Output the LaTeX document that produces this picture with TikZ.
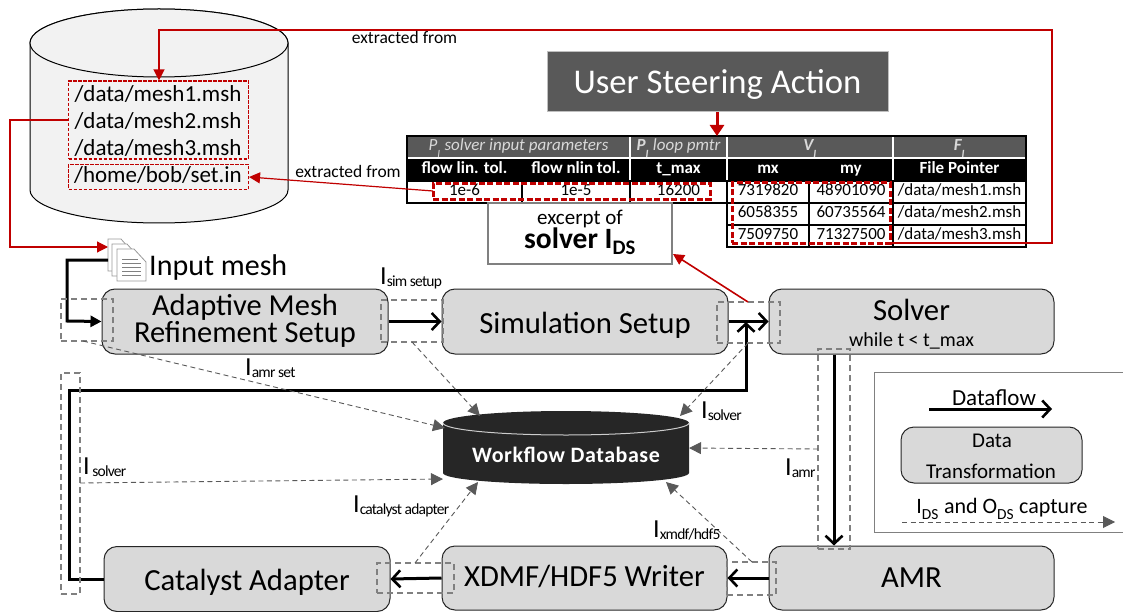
\documentclass[tikz,border=0pt]{standalone}
\usepackage{fontspec}
\setmainfont{Carlito}
\usetikzlibrary{arrows.meta,calc}
\newcommand{\fsz}[1]{\fontsize{#1pt}{#1pt}\selectfont}
\newcommand{\capI}[1]{{\fsz{26}I}{\addfontfeatures{LetterSpace=-5}\fsz{15.5}\raisebox{-2.5pt}{#1}}}
\definecolor{redline}{HTML}{C00000}
\definecolor{boxgray}{HTML}{D9D9D9}
\definecolor{capgray}{HTML}{595959}
\definecolor{dashgray}{HTML}{808080}
\tikzset{
  x=1pt,y=-1pt,
  procbox/.style={draw=black!85,line width=1pt,fill=boxgray,rounded corners=13pt,inner sep=0pt,align=center,text=black},
  flowline/.style={draw=black,line width=3pt},
  flowarrow/.style={flowline,-{Straight Barb[length=8pt,width=17pt,line width=2.6pt]}},
  flowfill/.style={flowline,-{Triangle[length=11pt,width=11pt]}},
  capture/.style={draw=capgray,line width=.9pt,dash pattern=on 5pt off 3.5pt,-{Triangle[length=12pt,width=12pt,color=capgray,fill=capgray]}},
  caprect/.style={draw=dashgray,line width=1.1pt,dash pattern=on 6pt off 4pt},
  redbox/.style={draw=redline,line width=1.1pt,dash pattern=on 3.5pt off 1.5pt},
  redthick/.style={draw=redline,line width=3pt,dash pattern=on 6pt off 2.5pt},
  redarrow/.style={draw=redline,line width=1.2pt,-{Triangle[length=11pt,width=11pt]}},
  tcell/.style={draw=black,line width=1.5pt,fill=white,inner sep=0pt,font=\fsz{17},text height=12pt,text depth=4pt},
  thead/.style={draw=black,line width=1.5pt,fill=black,text=white,inner sep=0pt,font=\bfseries\fsz{17},text height=12pt,text depth=4pt},
  tgroup/.style={fill=capgray,text=boxgray,inner sep=0pt,font=\itshape\fsz{17},text height=12pt,text depth=4pt},
  doc/.style={draw=black!40,line width=.8pt,fill=white},
  lbl/.style={inner sep=0pt,text=black,anchor=base},
  lblw/.style={inner sep=0pt,text=black,anchor=base west},
}
\begin{document}
\begin{tikzpicture}
\useasboundingbox (0,0) rectangle (1123,612);
% store cylinder
\draw[fill=black!5,line width=1pt] (30,43) -- (30,190) arc[start angle=180,end angle=360,x radius=129pt,y radius=33pt] -- (288,43) arc[start angle=0,end angle=180,x radius=129pt,y radius=34pt] -- cycle;
\draw[fill=black!5,line width=1pt] (159,43) ellipse[x radius=129pt,y radius=34pt];
\node[lbl,font=\fsz{23}] (m1) at (158,102) {/data/mesh1.msh};
\node[lbl,font=\fsz{23}] (m2) at (158,128.5) {/data/mesh2.msh};
\node[lbl,font=\fsz{23}] (m3) at (158,156) {/data/mesh3.msh};
\node[lbl,font=\fsz{23}] (hb) at (158,182.5) {/home/bob/set.in};
\node[redbox,minimum width=180pt,minimum height=78pt,inner sep=0pt] (meshes) at (158.5,120) {};
\node[redbox,minimum width=180pt,minimum height=25pt,inner sep=0pt] (setin) at (158.5,177) {};
% user steering
\node[draw=black!25,line width=1pt,fill=capgray,text=white,minimum width=341pt,minimum height=60pt,inner sep=0pt,font=\fsz{34.7},text height=22.6pt,text depth=0pt] (steer) at (717.5,82) {User Steering Action};
% table
\node[tgroup,minimum width=223pt,minimum height=22pt] (g1) at (518.5,147) {\textit{P\textsubscript{\raisebox{-4pt}{\fsz{11}I}}} solver input parameters};
\node[tgroup,minimum width=97pt,minimum height=22pt] (g2) at (678.5,147) {\textbf{P\textsubscript{\raisebox{-4pt}{\fsz{11}I}}} loop pmtr};
\node[tgroup,minimum width=166pt,minimum height=22pt,font=\bfseries\itshape\fsz{17}] (g3) at (810,147) {V\textsubscript{\raisebox{-4pt}{\fsz{11}I}}};
\node[tgroup,minimum width=133pt,minimum height=22pt,font=\bfseries\itshape\fsz{17}] (g4) at (959.5,147) {F\textsubscript{\raisebox{-4pt}{\fsz{11}I}}};
\node[thead,minimum width=115pt,minimum height=23pt] (h1) at (464.5,169.5) {flow lin. tol.};
\node[thead,minimum width=108pt,minimum height=23pt] (h2) at (576,169.5) {flow nlin tol.};
\node[thead,minimum width=97pt,minimum height=23pt] (h3) at (678.5,169.5) {t\_max};
\node[thead,minimum width=82pt,minimum height=23pt] (h4) at (768,169.5) {mx};
\node[thead,minimum width=84pt,minimum height=23pt] (h5) at (851,169.5) {my};
\node[thead,minimum width=133pt,minimum height=23pt] (h6) at (959.5,169.5) {File Pointer};
\node[tcell,minimum width=115pt,minimum height=22pt] (c11) at (464.5,192) {1e-6};
\node[tcell,minimum width=108pt,minimum height=22pt] (c12) at (576,192) {1e-5};
\node[tcell,minimum width=97pt,minimum height=22pt] (c13) at (678.5,192) {16200};
\node[tcell,minimum width=82pt,minimum height=22pt] (c14) at (768,192) {7319820};
\node[tcell,minimum width=84pt,minimum height=22pt] (c15) at (851,192) {48901090};
\node[tcell,minimum width=133pt,minimum height=22pt] (c16) at (959.5,192) {/data/mesh1.msh};
\node[tcell,minimum width=82pt,minimum height=22pt] (c24) at (768,214) {6058355};
\node[tcell,minimum width=84pt,minimum height=22pt] (c25) at (851,214) {60735564};
\node[tcell,minimum width=133pt,minimum height=22pt] (c26) at (959.5,214) {/data/mesh2.msh};
\node[tcell,minimum width=82pt,minimum height=22pt] (c34) at (768,236) {7509750};
\node[tcell,minimum width=84pt,minimum height=22pt] (c35) at (851,236) {71327500};
\node[tcell,minimum width=133pt,minimum height=22pt] (c36) at (959.5,236) {/data/mesh3.msh};
\draw[black,line width=1.5pt] (407,136) rectangle (1026,158);
\draw[white,line width=1.2pt] (630,137) -- (630,180) (727,137) -- (727,180) (893,137) -- (893,180) (408,158) -- (1025,158);
\node[redthick,minimum width=277pt,minimum height=16pt,inner sep=0pt] (redparams) at (571.5,191.5) {};
\node[redthick,minimum width=158pt,minimum height=60pt,inner sep=0pt] (redvals) at (811,213) {};
% excerpt
\node[draw=dashgray,line width=1.6pt,fill=white,minimum width=184pt,minimum height=61pt,inner sep=0pt] (excerpt) at (580,233.5) {};
\node[lbl,font=\fsz{21}] (ex0) at (580,225) {excerpt of};
\node[lbl,font=\bfseries\fsz{29.5}] (ex00) at (580,248) {solver I\textsubscript{\raisebox{-3pt}{DS}}};
% icon
\draw[doc] (108,239) -- (121,239) -- (128,247) -- (128,271) -- (108,271) -- cycle;
\draw[doc] (112,244) -- (127,244) -- (136,254) -- (136,276) -- (112,276) -- cycle;
\draw[doc] (117,249) -- (134,249) -- (146,262) -- (146,281) -- (117,281) -- cycle;
\draw[black!50,line width=.7pt] (122,259) -- (138,259) (122,263) -- (141,263) (122,267) -- (141,267) (122,271) -- (141,271) (122,275) -- (141,275);
\node[inner sep=0pt,minimum width=38pt,minimum height=42pt] (icon) at (127,260) {};
\node[lblw,font=\fsz{30}] (inputmesh) at (149,275) {Input mesh};
% process boxes
\node[procbox,minimum width=286pt,minimum height=65pt] (amrsetup) at (245,321.5) {};
\node[lbl,font=\fsz{30.5}] (amrs1) at (245,315) {Adaptive Mesh};
\node[lbl,font=\fsz{30.5}] (amrs2) at (245,342) {Refinement Setup};
\node[procbox,minimum width=286pt,minimum height=65pt,font=\fsz{30.7},text height=23pt,text depth=0pt] (simsetup) at (585,321.5) {Simulation Setup};
\node[procbox,minimum width=285pt,minimum height=65pt] (solver) at (911.5,321.5) {};
\node[lbl,font=\fsz{30.7}] (solvert) at (911.5,320) {Solver};
\node[lbl,font=\fsz{20}] (solverw) at (911.5,346.5) {while t < t\_max};
\node[procbox,minimum width=286pt,minimum height=65pt,font=\fsz{30.7},text height=22pt,text depth=0pt] (catalyst) at (247,579) {Catalyst Adapter};
\node[procbox,minimum width=285pt,minimum height=64pt,font=\fsz{30.7},text height=16pt,text depth=0pt] (xdmf) at (584.5,578) {XDMF/HDF5 Writer};
\node[procbox,minimum width=285pt,minimum height=64pt,font=\fsz{30.7},text height=18pt,text depth=0pt] (amr) at (911.5,578) {AMR};
% database
\fill[black!85] (443,423) -- (443,473) arc[start angle=180,end angle=360,x radius=123pt,y radius=11pt] -- (689,423) arc[start angle=0,end angle=180,x radius=123pt,y radius=12pt] -- cycle;
\draw[white!80!black,line width=1pt] (443,423) arc[start angle=180,end angle=360,x radius=123pt,y radius=12pt];
\node[lbl,text=white,font=\bfseries\fsz{22}] (wfdb) at (566,462.7) {\addfontfeatures{LetterSpace=2.5}Workflow Database};
\node[inner sep=0pt,minimum width=246pt,minimum height=73pt] (dbshape) at (566,447.5) {};
% flow connectors
\coordinate (c1) at (67,260);
\coordinate (c2) at (67,321);
\draw[flowfill] (108,260) -- (c1) -- (c2) -- (amrsetup.west);
\draw[flowarrow] (amrsetup.east) -- (simsetup.west);
\draw[flowarrow] (simsetup.east) -- (solver.west);
\draw[flowarrow] (solver.south -| 834,0) -- (amr.north -| 834,0);
\draw[flowarrow] (amr.west) -- (xdmf.east);
\draw[flowarrow] (xdmf.west) -- (catalyst.east);
\coordinate (l1) at (69,579);
\coordinate (l2) at (69,390);
\coordinate (l3) at (746,390);
\coordinate (l4) at (746,322);
\draw[flowarrow] (catalyst.west) -- (l1) -- (l2) -- (l3) -- (l4);
% capture rectangles
\node[caprect,minimum width=52pt,minimum height=42pt,inner sep=0pt] (r1) at (87,320) {};
\node[caprect,minimum width=62pt,minimum height=42pt,inner sep=0pt] (r2) at (412,321) {};
\node[caprect,minimum width=63pt,minimum height=41pt,inner sep=0pt] (r3) at (748.5,322.5) {};
\node[caprect,minimum width=32pt,minimum height=200pt,inner sep=0pt] (r4) at (834,449) {};
\node[caprect,minimum width=19pt,minimum height=221pt,inner sep=0pt] (r5) at (70.5,483.5) {};
\node[caprect,minimum width=77pt,minimum height=30pt,inner sep=0pt] (r6) at (415.5,578) {};
\node[caprect,minimum width=49pt,minimum height=33pt,inner sep=0pt] (r7) at (751.5,578.5) {};
% capture arrows
\coordinate (t1) at (445,428);
\coordinate (t2) at (480,416);
\coordinate (t3) at (680,416);
\coordinate (t4) at (443,479);
\coordinate (t5) at (478,482);
\coordinate (t6) at (666,482);
\coordinate (t7) at (689,448);
\draw[capture] (83,341) -- (t1);
\draw[capture] (412,342) -- (t2);
\draw[capture] (748,343) -- (t3);
\draw[capture] (80,483) -- (t4);
\draw[capture] (415,563) -- (t5);
\draw[capture] (752,562) -- (t6);
\draw[capture] (818,449) -- (t7);
% red connectors
\coordinate (e1) at (1052,243);
\coordinate (e2) at (1052,30);
\coordinate (e3) at (159,30);
\draw[redarrow] (redvals.east |- e1) -- (e1) -- (e2) -- (e3) -- (meshes.north -| e3);
\coordinate (f1) at (10,120);
\coordinate (f2) at (10,247);
\draw[redarrow] (meshes.west) -- (f1) -- (f2) -- (108,247);
\draw[redarrow] (433,191) -- (setin.east);
\draw[redarrow,line width=1.6pt] (748,302) -- (673,254);
\draw[redarrow,line width=3pt,-{Triangle[length=11pt,width=14pt]}] (steer.south -| 717,0) -- (717,136);
% texts
\node[lbl,font=\fsz{17.5}] (ex1) at (404.5,44) {extracted from};
\node[lbl,font=\fsz{17.5}] (ex2) at (348,177.5) {extracted from};
\node[lblw] (lsim) at (380,284) {\capI{sim setup}};
\node[lblw] (lamrs) at (245,375) {\capI{amr set}};
\node[lblw] (lsol1) at (83,474) {\capI{\,solver}};
\node[lblw] (lsol2) at (701,418) {\capI{solver}};
\node[lblw] (lcat) at (353,512) {\capI{catalyst adapter}};
\node[lblw] (lxm) at (653,537) {\capI{xmdf/hdf5}};
\node[lblw] (lamr) at (785,475) {\capI{amr}};
% legend
\draw[draw=dashgray,line width=1pt] (1123,372) -- (874,372) -- (874,532) -- (1123,532);
\node[lbl,font=\fsz{23}] (ldf) at (994,405.7) {Dataflow};
\coordinate (la) at (929,409);
\coordinate (lb) at (1052,409);
\draw[flowarrow] (la) -- (lb);
\node[procbox,minimum width=181pt,minimum height=56pt] (ldt) at (991.5,455) {};
\node[lbl,font=\fsz{21}] (ldt1) at (992,447.7) {Data};
\node[lbl,font=\fsz{21}] (ldt2) at (991,478.3) {Transformation};
\node[lbl,font=\fsz{22}] (lcap) at (1002,513.3) {I\textsubscript{\raisebox{-3pt}{DS}} and O\textsubscript{\raisebox{-3pt}{DS}} capture};
\coordinate (lc) at (902,522);
\coordinate (ld) at (1115,522);
\draw[capture] (lc) -- (ld);
\end{tikzpicture}
\end{document}
